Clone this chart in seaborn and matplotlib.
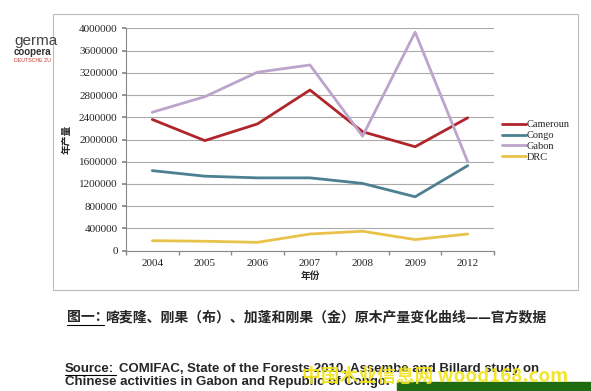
import matplotlib
matplotlib.use("Agg")
import matplotlib.pyplot as plt
import seaborn as sns
import pandas as pd
from matplotlib.patches import Rectangle

years = ["2004", "2005", "2006", "2007", "2008", "2009", "2012"]
cameroun = [2360000, 1980000, 2280000, 2890000, 2140000, 1870000, 2390000]
congo = [1440000, 1340000, 1310000, 1310000, 1210000, 970000, 1530000]
gabon = [2490000, 2770000, 3210000, 3340000, 2060000, 3930000, 1600000]
drc = [180000, 170000, 150000, 300000, 350000, 200000, 300000]
series_names = ["Cameroun", "Congo", "Gabon", "DRC"]
yticks = list(range(0, 4000001, 400000))

colors = {"Cameroun": "#B0252B", "Congo": "#4C8090", "Gabon": "#BCA4CC", "DRC": "#E9C24A"}

rows = []
for name, vals in zip(series_names, [cameroun, congo, gabon, drc]):
    for y, v in zip(years, vals):
        rows.append({"year": y, "value": v, "country": name})
df = pd.DataFrame(rows)

sns.set_theme(style="white")
plt.rcParams['font.family'] = ['Liberation Serif', 'Noto Sans CJK SC', 'DejaVu Sans']

fig = plt.figure(figsize=(5.91, 3.91), dpi=100)
fig.patch.set_facecolor("white")

# slide decoration: logo text (partly hidden behind the chart panel)
fig.text(14/591, 1 - 45/391, "germa", fontsize=11, color="#444444",
         family=["Liberation Sans"], va="baseline")
fig.text(14/591, 1 - 55/391, "coopera", fontsize=7, color="#333333", weight="bold",
         family=["Liberation Sans"], va="baseline")
fig.text(14/591, 1 - 62/391, "DEUTSCHE ZU", fontsize=3.8, color="#C0392B",
         family=["Liberation Sans"], va="baseline")
# chart panel
fig.add_artist(Rectangle((53/591, 1 - 290/391), (578-53)/591, (290-14)/391,
                         transform=fig.transFigure, facecolor="white",
                         edgecolor="#BBBBBB", lw=0.8, zorder=2))

ax = fig.add_axes([126/591, 1 - 250.7/391, (494-126)/591, (250.7-28.3)/391], zorder=3)
sns.lineplot(data=df, x="year", y="value", hue="country", palette=colors,
             hue_order=series_names, ax=ax, linewidth=2, sort=False, legend=False)

ax.set_xlim(-0.5, len(years) - 0.5)
ax.set_ylim(0, 4000000)
ax.set_yticks(yticks)
ax.set_yticklabels([str(v) for v in yticks], fontsize=8)
ax.set_xticks(range(len(years)))
ax.set_xticklabels(years, fontsize=8)
ax.tick_params(axis="x", length=0, pad=6)
ax.tick_params(axis="y", length=3, direction="out", left=True, pad=3, color="#888888")
ax.set_xticks([i - 0.5 for i in range(len(years) + 1)], minor=True)
ax.tick_params(axis="x", which="minor", length=3, direction="out", bottom=True, color="#888888")
ax.yaxis.grid(True, color="#AAAAAA", lw=0.8)
ax.xaxis.grid(False)
for s in ["top", "right"]:
    ax.spines[s].set_visible(False)
for s in ["left", "bottom"]:
    ax.spines[s].set_color("#888888")
    ax.spines[s].set_linewidth(0.8)
ax.set_xlabel("年份", fontsize=7, weight="bold", family=["Noto Sans CJK SC"], labelpad=2)
ax.set_ylabel("年产量", fontsize=7, weight="bold", family=["Noto Sans CJK SC"], labelpad=5)

handles = [plt.Line2D([], [], color=colors[n], lw=2) for n in series_names]
leg = fig.legend(handles, series_names, loc="center left",
                 bbox_to_anchor=(493/591, 1 - 141/391), frameon=False,
                 handlelength=2.3, handletextpad=0.0, labelspacing=0.15,
                 prop={"family": "Liberation Serif", "size": 7.5})
leg.set_zorder(4)

# caption
fig.text(67/591, 1 - 317/391, "图一：", fontsize=10, weight="bold",
         family=["Noto Sans CJK SC"], va="center")
fig.add_artist(plt.Line2D([67/591, 104/591], [1 - 325/391, 1 - 325/391],
                          transform=fig.transFigure, color="black", lw=0.8))
fig.text(105/591, 1 - 317/391, "喀麦隆、刚果（布）、加蓬和刚果（金）原木产量变化曲线——官方数据",
         fontsize=10, weight="bold", family=["Noto Sans CJK SC"], va="center")

# source
fig.text(65/591, 1 - 369/391, "Source:", fontsize=9.5, weight="bold",
         family=["Liberation Sans"], va="center")
fig.add_artist(plt.Line2D([65/591, 116/591], [1 - 375/391, 1 - 375/391],
                          transform=fig.transFigure, color="black", lw=0.8))
fig.text(119/591, 1 - 369/391,
         "COMIFAC, State of the Forests 2010, Assembe and Billard study on",
         fontsize=9.5, weight="bold", family=["Liberation Sans"], va="center")
fig.text(65/591, 1 - 382/391,
         "Chinese activities in Gabon and Republic of Congo.",
         fontsize=9.5, weight="bold", family=["Liberation Sans"], va="center")

# watermark
fig.add_artist(Rectangle((397/591, 0), (591-397)/591, (391-382)/391,
                         transform=fig.transFigure, color="#1F6B10"))
fig.text(302/591, 1 - 376/391, "中国木业信息网 wood168.com", fontsize=13.5, weight="bold",
         color="#F2E21A", family=["Noto Sans CJK SC", "DejaVu Sans"], va="center", alpha=0.9)

fig.savefig("out.png", dpi=100)
